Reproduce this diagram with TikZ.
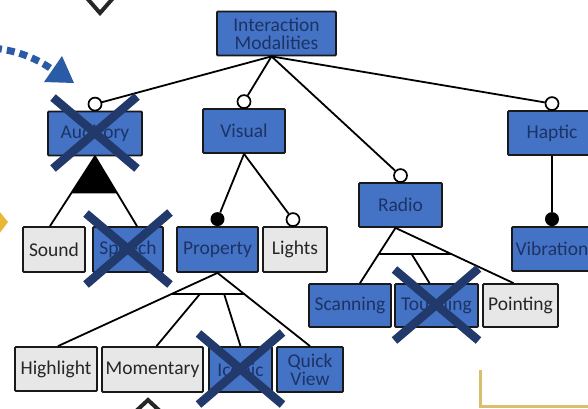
\documentclass[tikz,border=0pt]{standalone}
\usepackage{fontspec}
\setmainfont{Carlito}
\usetikzlibrary{calc}
\definecolor{boxblue}{HTML}{4472C4}
\definecolor{navytext}{HTML}{1C3366}
\definecolor{boxgray}{HTML}{E7E7E7}
\definecolor{xnavy}{HTML}{213A6B}
\definecolor{arrowblue}{HTML}{2A5BA6}
\definecolor{wedgegold}{HTML}{E8B735}
\definecolor{frametan}{HTML}{D9BF6C}

\begin{document}
\begin{tikzpicture}[x=1pt,y=-1pt,
  feat/.style={draw=black!90, line width=1.8pt, rounded corners=1pt, inner sep=0pt,
    minimum height=44pt, align=center, font=\fontsize{19.5}{18}\selectfont},
  sel/.style={feat, fill=boxblue, text=navytext},
  plain/.style={feat, fill=boxgray, text=black!85},
  link/.style={line width=1.8pt, black},
  optc/.style={circle, draw=black, line width=1.7pt, fill=white, minimum size=13pt, inner sep=0pt},
  mandc/.style={circle, fill=black, minimum size=14pt, inner sep=0pt},
  xmark/.style={line width=8.5pt, xnavy},
]
\useasboundingbox (0,0) rectangle (588,408);

% partial shapes at the margins
\draw[black!85, line width=4pt, miter limit=10] (86,-3) -- (100,13) -- (114,-3);
\draw[black!85, line width=4pt, miter limit=10] (134,413) -- (148,400) -- (162,413);
\fill[wedgegold] (-1,211) -- (8,222) -- (-1,234) -- cycle;
\draw[frametan, line width=3pt] (480,370) -- (480,406) -- (592,406);
\draw[arrowblue, line width=7pt, dash pattern=on 8pt off 5pt] (-6,48) .. controls (18,51) and (36,58) .. (53,70);
\fill[arrowblue] (62,56) -- (44,82) -- (74,83) -- cycle;

% feature boxes
\node[sel, minimum width=119pt] (im) at (276.5,33.5) {Interaction\\Modalities};
\node[sel, minimum width=94pt] (aud) at (95,133.5) {Auditory};
\node[sel, minimum width=82pt] (vis) at (244,131) {Visual};
\node[sel, minimum width=83pt] (rad) at (400.5,205) {Radio};
\node[sel, minimum width=88pt] (hap) at (552,133) {Haptic};
\node[plain, minimum width=62pt, minimum height=45pt] (sound) at (54,249.5) {Sound};
\node[sel, minimum width=70pt, minimum height=45pt] (speech) at (128,249.5) {Speech};
\node[sel, minimum width=81pt, minimum height=45pt] (prop) at (217.5,249.5) {Property};
\node[plain, minimum width=64pt, minimum height=45pt] (lights) at (295,249.5) {Lights};
\node[sel, minimum width=80pt] (vib) at (552,249) {Vibration};
\node[sel, minimum width=82pt, minimum height=43pt] (scan) at (350,305.5) {Scanning};
\node[sel, minimum width=83pt, minimum height=43pt] (touch) at (436.5,305.5) {Touching};
\node[plain, minimum width=75pt, minimum height=43pt] (point) at (520.5,305.5) {Pointing};
\node[plain, minimum width=82pt] (high) at (56,369) {Highlight};
\node[plain, minimum width=101pt, minimum height=45pt] (mom) at (152.5,369.5) {Momentary};
\node[sel, minimum width=63pt, minimum height=45pt] (icon) at (240.5,369.5) {Iconic};
\node[sel, minimum width=66pt, minimum height=45pt] (quick) at (310,369.5) {Quick\\View};

% optional / mandatory markers
\node[optc] (c-aud) at ([yshift=6.5pt]aud.north) {};
\node[optc] (c-vis) at ([yshift=6.5pt]vis.north) {};
\node[optc] (c-rad) at ([yshift=6.5pt]rad.north) {};
\node[optc] (c-hap) at ([yshift=6.5pt]hap.north) {};
\node[mandc] (d-prop) at ([yshift=7pt]prop.north) {};
\node[optc] (c-lights) at ([yshift=6.5pt,xshift=-2pt]lights.north) {};
\node[mandc] (d-vib) at ([yshift=7pt]vib.north) {};

% root connectors
\coordinate (r0) at ([xshift=-5pt]im.south);
\draw[link] (r0) -- (c-aud);
\draw[link] (r0) -- (c-vis);
\draw[link] (r0) -- (c-rad);
\draw[link] (r0) -- (c-hap);

% visual and haptic children
\draw[link] (vis.south) -- (d-prop);
\draw[link] (vis.south) -- (c-lights);
\draw[link] (hap.south) -- (d-vib);

% auditory: or-group
\coordinate (a0) at (aud.south);
\coordinate (a1) at ([xshift=-4pt]sound.north);
\coordinate (a2) at ([xshift=9pt]speech.north);
\draw[link] (a0) -- (a1);
\draw[link] (a0) -- (a2);
\fill[black] (a0) -- ($(a0)!0.53!(a1)$) -- ($(a0)!0.53!(a2)$) -- cycle;

% radio: alternative group
\coordinate (b0) at ([xshift=-5pt]rad.south);
\coordinate (b1) at ([xshift=10pt]scan.north);
\coordinate (b2) at ([xshift=-7pt]touch.north);
\coordinate (b3) at ([xshift=-7pt]point.north);
\draw[link] (b0) -- (b1);
\draw[link] (b0) -- (b3);
\draw[link] ($(b0)!0.47!(b1)$) -- ($(b0)!0.47!(b3)$);
\draw[link] ($(b0)!0.47!(b2)$) -- (b2);

% property: alternative group
\coordinate (p0) at (prop.south);
\coordinate (p1) at ([xshift=2pt]high.north);
\coordinate (p2) at ([xshift=4pt]mom.north);
\coordinate (p3) at (icon.north);
\coordinate (p4) at (quick.north);
\draw[link] (p0) -- (p1);
\draw[link] (p0) -- (p4);
\draw[link] ($(p0)!0.293!(p1)$) -- ($(p0)!0.293!(p4)$);
\draw[link] ($(p0)!0.293!(p2)$) -- (p2);
\draw[link] ($(p0)!0.293!(p3)$) -- (p3);

% removed features
\foreach \n in {aud, speech, icon, touch} {
  \draw[xmark] ($(\n)+(-42,-36)$) -- ($(\n)+(42,35)$);
  \draw[xmark] ($(\n)+(42,-37)$) -- ($(\n)+(-42,35)$);
}
\end{tikzpicture}
\end{document}
